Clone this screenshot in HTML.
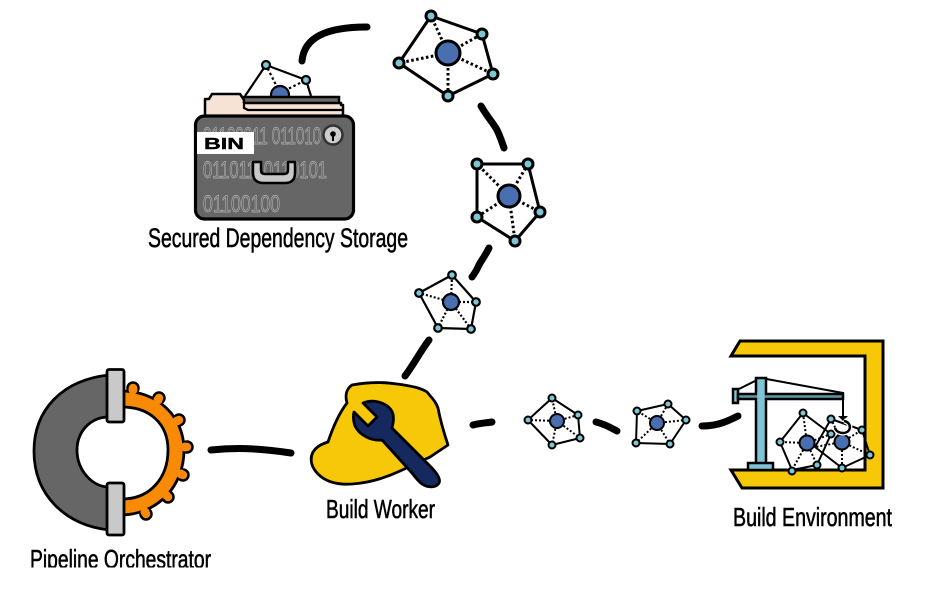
<!DOCTYPE html>
<html><head><meta charset="utf-8"><style>
html,body{margin:0;padding:0;background:#fff;width:937px;height:596px;overflow:hidden}
svg{display:block}
.lbl{font-family:"Liberation Sans",sans-serif;fill:#000;stroke:#000;stroke-width:.55}
.bin{font-family:"Liberation Sans",sans-serif;fill:none;stroke:#b8b8b8;stroke-width:.7}
.o{fill:none;stroke:#000;stroke-linejoin:round}
.d{fill:none;stroke:#000;stroke-dasharray:2.5 2.5}
.n{fill:#7ec6d6;stroke:#000}
.c{fill:#4a6fb0;stroke:#000}
.cn{fill:none;stroke:#000;stroke-width:7;stroke-linecap:round;stroke-linejoin:round}
</style></head><body>
<svg width="937" height="596" viewBox="0 0 937 596" xmlns="http://www.w3.org/2000/svg">
<!-- connectors -->
<path class="cn" d="M302 61C304 38 325 27 367 27"/>
<path class="cn" d="M481 106C488 118 494 124 497 130S502 142 504 148"/>
<path class="cn" d="M489 248C484 258 480 262 478 267S474 274 472 277"/>
<path class="cn" d="M429 340C420 352 414 364 405 376"/>
<path class="cn" d="M211 450C240 447 265 449 291 453"/>
<path class="cn" d="M473 425C480 423 486 423 492 422"/>
<path class="cn" d="M596 422C605 424 611 428 617 431"/>
<path class="cn" d="M702 426C718 426 728 421 738 416"/>

<!-- pentagon 1 -->
<g stroke-width="3"><path class="d" style="stroke-width:3" d="M448 53L431 16M448 53L482 34M448 53L493 74M448 53L448 96M448 53L399 63"/>
<path class="o" d="M431 16L482 34L493 74L448 96L399 63Z"/>
<circle class="n" cx="431" cy="16" r="5"/><circle class="n" cx="482" cy="34" r="5"/><circle class="n" cx="493" cy="74" r="5"/><circle class="n" cx="448" cy="96" r="5"/><circle class="n" cx="399" cy="63" r="5"/>
<circle class="c" cx="448" cy="53" r="12"/></g>
<!-- pentagon 2 -->
<g stroke-width="3"><path class="d" style="stroke-width:3" d="M509 196L477 164M509 196L528 164M509 196L540 212M509 196L515 241M509 196L477 217"/>
<path class="o" d="M477 164L528 164L540 212L515 241L477 217Z"/>
<circle class="n" cx="477" cy="164" r="5"/><circle class="n" cx="528" cy="164" r="5"/><circle class="n" cx="540" cy="212" r="5"/><circle class="n" cx="515" cy="241" r="5"/><circle class="n" cx="477" cy="217" r="5"/>
<circle class="c" cx="509" cy="196" r="11"/></g>
<!-- pentagon 3 -->
<g stroke-width="2.2"><path class="d" style="stroke-width:2.2;stroke-dasharray:2 2" d="M451 302L452 275M451 302L476 302M451 302L471 329M451 302L438 328M451 302L419 293"/>
<path class="o" d="M452 275L476 302L471 329L438 328L419 293Z"/>
<circle class="n" cx="452" cy="275" r="3.8"/><circle class="n" cx="476" cy="302" r="3.8"/><circle class="n" cx="471" cy="329" r="3.8"/><circle class="n" cx="438" cy="328" r="3.8"/><circle class="n" cx="419" cy="293" r="3.8"/>
<circle class="c" cx="451" cy="302" r="8"/></g>
<!-- pentagon 4 -->
<g stroke-width="2"><path class="d" style="stroke-width:2;stroke-dasharray:2 2" d="M557 421L552 398M557 421L578 415M557 421L580 438M557 421L552 445M557 421L528 420"/>
<path class="o" d="M552 398L578 415L580 438L552 445L528 420Z"/>
<circle class="n" cx="552" cy="398" r="3.500"/><circle class="n" cx="578" cy="415" r="3.500"/><circle class="n" cx="580" cy="438" r="3.500"/><circle class="n" cx="552" cy="445" r="3.500"/><circle class="n" cx="528" cy="420" r="3.500"/>
<circle class="c" cx="557" cy="421" r="7"/></g>
<!-- pentagon 5 -->
<g stroke-width="2"><path class="d" style="stroke-width:2;stroke-dasharray:2 2" d="M657 423L637 411M657 423L668 404M657 423L686 420M657 423L670 444M657 423L636 443"/>
<path class="o" d="M637 411L668 404L686 420L670 444L636 443Z"/>
<circle class="n" cx="637" cy="411" r="3.500"/><circle class="n" cx="668" cy="404" r="3.500"/><circle class="n" cx="686" cy="420" r="3.500"/><circle class="n" cx="670" cy="444" r="3.500"/><circle class="n" cx="636" cy="443" r="3.500"/>
<circle class="c" cx="657" cy="423" r="7"/></g>

<!-- folder -->
<g stroke-width="2.2"><path class="d" style="stroke-width:2.2;stroke-dasharray:2.5 2.5" d="M280 93L266 65M280 93L306 80"/>
<path class="o" d="M245 96L266 65L306 80L311 96"/>
<circle class="n" cx="266" cy="65" r="4"/><circle class="n" cx="306" cy="80" r="4"/>
<circle class="c" cx="280" cy="95" r="9"/></g>
<rect x="243" y="97" width="96" height="11" fill="#6f6762" stroke="#000" stroke-width="2.500"/>
<path d="M205 116V99H209L212 94H240L244 100V103H341V105H343V116Z" fill="#f6e3d5" stroke="#000" stroke-width="2.500" stroke-linejoin="round"/>
<path d="M244 101V108L248 110H342" fill="none" stroke="#000" stroke-width="2.200"/>
<rect x="195.500" y="116" width="158" height="103" rx="9" fill="#666" stroke="#000" stroke-width="3.200"/>
<text class="bin" x="203" y="144" font-size="24" textLength="118" lengthAdjust="spacingAndGlyphs">01100011 011010</text>
<text class="bin" x="203" y="178" font-size="24" textLength="124" lengthAdjust="spacingAndGlyphs">01101110110101</text>
<text class="bin" x="203" y="212" font-size="24" textLength="77" lengthAdjust="spacingAndGlyphs">01100100</text>
<rect x="197" y="132" width="57" height="22" fill="#fff"/>
<text x="204" y="149" font-family="Liberation Sans,sans-serif" font-weight="700" font-size="16" textLength="40" lengthAdjust="spacingAndGlyphs" fill="#000" stroke="#000" stroke-width=".4">BIN</text>
<circle cx="333" cy="135" r="9.500" fill="#ccc" stroke="#333" stroke-width="2.500"/>
<circle cx="333" cy="134" r="2.800" fill="#000"/><path d="M333 135V141" stroke="#000" stroke-width="2"/>
<path d="M253 162V173Q253 183 264 183H285Q295 183 295 173V162H288V170Q288 174 284 174H265Q261 174 261 170V162Z" fill="#c8c8c8" stroke="#000" stroke-width="2.500" stroke-linejoin="round"/>
<text class="lbl" x="148" y="247" font-size="27" textLength="260" lengthAdjust="spacingAndGlyphs">Secured Dependency Storage</text>

<!-- orchestrator -->
<g stroke="#000" stroke-width="2.500" fill="#f98a06">
<circle cx="133" cy="388" r="5.500"/><circle cx="159" cy="398" r="5.500"/><circle cx="179" cy="420" r="5.500"/><circle cx="187" cy="447" r="5.500"/><circle cx="183" cy="475" r="5.500"/><circle cx="168" cy="497" r="5.500"/><circle cx="146" cy="514" r="5.500"/>
</g>
<path d="M122 391C160 392 184 418 184 450C184 486 158 514 122 515V499C150 499 168 478 168 450C168 424 150 407 122 407Z" fill="#f98a06" stroke="#000" stroke-width="2.800" stroke-linejoin="round"/>
<g fill="#f98a06">
<circle cx="133" cy="390" r="4.500"/><circle cx="158" cy="400" r="4.500"/><circle cx="177" cy="421" r="4.500"/><circle cx="185" cy="447" r="4.500"/><circle cx="181" cy="474" r="4.500"/><circle cx="166" cy="495" r="4.500"/><circle cx="145" cy="512" r="4.500"/>
</g>
<path d="M109 375C62 380 34 410 34 451C34 495 65 525 109 530V487C92 487 77 470 77 450C77 432 90 417 109 417Z" fill="#666" stroke="#000" stroke-width="2.800" stroke-linejoin="round"/>
<rect x="107" y="369.500" width="17" height="52.500" rx="2" fill="#c9c9c9" stroke="#000" stroke-width="2.800"/>
<rect x="107" y="483" width="17" height="52" rx="2" fill="#c9c9c9" stroke="#000" stroke-width="2.800"/>
<svg x="0" y="540" width="300" height="27.500" viewBox="0 540 300 27.500"><text class="lbl" x="30" y="568" font-size="26" textLength="181" lengthAdjust="spacingAndGlyphs">Pipeline Orchestrator</text></svg>

<!-- hard hat -->
<path d="M352 385C368 382 384 382 397 384C412 386 421 388 427 392C432 398 436 402 438 408C441 424 445 436 448 445L430 457L400 471C385 478 368 483 352 484C338 485 326 482 318 474C312 468 309 460 313 452C317 446 322 444 328 442C334 424 340 412 347 403C345 396 346 389 352 385Z" fill="#f7c808" stroke="#000" stroke-width="2.800" stroke-linejoin="round"/>
<path d="M363 403C375 398 390 404 393 414C394 420 393 424 392 428L430 466C437 473 441 479 439 483C436 488 428 488 422 484C418 481 415 477 412 473L382 440C372 441 360 436 355 426C353 420 353 416 354 412L368 426L377 417Z" fill="#16295f" stroke="#000" stroke-width="2.800" stroke-linejoin="round"/>
<text class="lbl" x="326" y="518" font-size="26" textLength="109" lengthAdjust="spacingAndGlyphs">Build Worker</text>

<!-- environment -->
<path d="M740 341H883V488H742L731 470H865V356H731Z" fill="#f7c808" stroke="#000" stroke-width="3" stroke-linejoin="miter"/>
<path d="M737 390L761 378L843 393V418" fill="none" stroke="#000" stroke-width="2"/>
<g stroke="#000" stroke-width="2.500" fill="#7fc4d4">
<rect x="756" y="378" width="10" height="88"/>
<rect x="733" y="389" width="5" height="14"/>
<rect x="738" y="394" width="105" height="5" fill="#5b99ab"/>
<path d="M748 470V463H773V470Z"/>
</g>
<rect x="757.200" y="392" width="7.500" height="9" fill="#7fc4d4"/>
<!-- env pentagon A -->
<g stroke-width="2"><path class="d" style="stroke-width:2;stroke-dasharray:2 2" d="M807 443L803 413M807 443L831 434M807 443L817 465M807 443L792 470M807 443L780 442"/>
<path class="o" d="M803 413L831 434L817 465L792 470L780 442Z"/>
<circle class="n" cx="803" cy="413" r="3.500"/><circle class="n" cx="831" cy="434" r="3.500"/><circle class="n" cx="817" cy="465" r="3.500"/><circle class="n" cx="792" cy="471" r="3.500"/><circle class="n" cx="780" cy="442" r="3.500"/>
<circle class="c" cx="807" cy="443" r="7.500"/></g>
<!-- env pentagon B -->
<g stroke-width="2"><path class="d" style="stroke-width:2;stroke-dasharray:2 2" d="M842 442L831 419M842 442L862 430M842 442L870 455M842 442L842 468M842 442L815 447"/>
<path class="o" d="M831 419L862 430L870 455L842 468L815 447Z"/>
<circle class="n" cx="831" cy="419" r="3.500"/><circle class="n" cx="862" cy="430" r="3.500"/><circle class="n" cx="870" cy="455" r="3.500"/><circle class="n" cx="842" cy="468" r="3.500"/>
<circle class="c" cx="842" cy="442" r="7.500"/></g>
<path d="M838 416H848L843 421Z" fill="#000"/>
<path d="M844 421C852 422 852 433 843 433C839 433 836 431 835 428" fill="none" stroke="#fff" stroke-width="5"/>
<path d="M844 421C852 422 852 433 843 433C839 433 836 431 835 428" fill="none" stroke="#000" stroke-width="2.500"/>
<text class="lbl" x="733" y="526" font-size="26" textLength="159" lengthAdjust="spacingAndGlyphs">Build Environment</text>
</svg>
</body></html>
